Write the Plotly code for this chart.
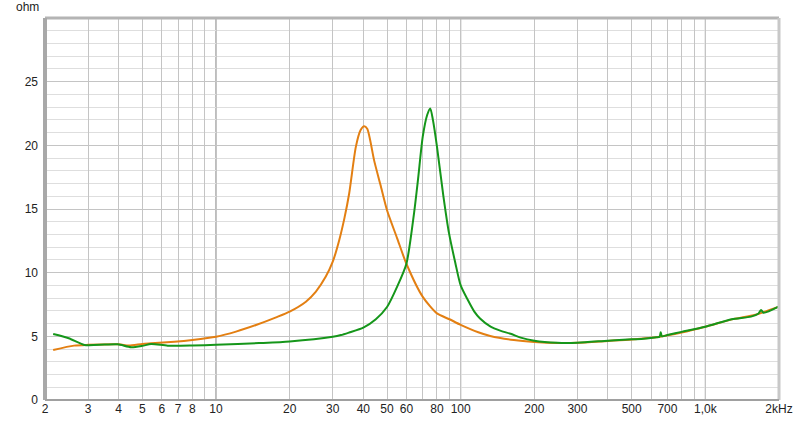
import plotly.graph_objects as go

# ---- data ----
orange_f = [2.16, 2.63, 3, 4, 4.4, 5, 5.43, 6.76, 8, 10, 12.07, 14.57, 17.6, 20, 23.3, 25.6, 28.1, 30,
            31.9, 33.5, 35, 37.3, 39, 40.3, 41.5, 44.3, 47, 50, 55, 60, 70, 80, 90, 100, 118, 132, 165,
            200, 250, 300, 400, 500, 650, 800, 1000, 1300, 1600, 2000]
orange_z = [3.93, 4.27, 4.33, 4.37, 4.28, 4.4, 4.45, 4.58, 4.72, 4.97, 5.37, 5.89, 6.49, 6.94, 7.72, 8.51,
            9.69, 10.86, 12.57, 14.3, 16.2, 19.9, 21.2, 21.5, 21.3, 18.8, 16.9, 14.9, 12.7, 10.7, 8.1, 6.8,
            6.34, 5.9, 5.32, 5.03, 4.71, 4.56, 4.48, 4.5, 4.64, 4.75, 4.97, 5.3, 5.75, 6.35, 6.7, 7.33]

green_f = [2.16, 2.5, 2.9, 3.5, 3.97, 4.5, 5.0, 5.43, 6.35, 8, 10, 15, 20, 30, 32.4, 35, 40, 45, 50, 55,
           60, 64.5, 67, 70, 73, 75.1, 77, 80, 85, 89.6, 95, 100, 107, 113.7, 120, 132.5, 145, 160, 176,
           200, 248, 300, 400, 500, 547, 630, 650, 657, 665, 700, 800, 1000, 1281, 1537, 1650, 1690,
           1730, 2000]
green_z = [5.18, 4.85, 4.32, 4.35, 4.37, 4.14, 4.25, 4.4, 4.27, 4.28, 4.33, 4.47, 4.6, 4.97, 5.1, 5.3,
           5.68, 6.34, 7.3, 8.9, 10.7, 14.7, 17.4, 20.7, 22.4, 22.9, 22.0, 19.9, 16.0, 13.1, 10.8, 9.0,
           7.85, 6.94, 6.4, 5.76, 5.45, 5.2, 4.9, 4.66, 4.5, 4.5, 4.66, 4.77, 4.79, 4.92, 4.97, 5.32, 5.0,
           5.1, 5.35, 5.76, 6.34, 6.55, 6.8, 7.07, 6.85, 7.35]

x_grid = [2, 3, 4, 5, 6, 7, 8, 9, 10, 20, 30, 40, 50, 60, 70, 80, 90, 100, 200, 300, 400, 500, 600,
          700, 800, 900, 1000, 2000]
x_text = ["2", "3", "4", "5", "6", "7", "8", "", "10", "20", "30", "40", "50", "60", "", "80", "",
          "100", "200", "300", "", "500", "", "700", "", "", "1,0k", "2kHz"]
decades = [10, 100, 1000]
y_ticks = [0, 5, 10, 15, 20, 25]

fig = go.Figure()
fig.add_trace(go.Scatter(x=orange_f, y=orange_z, mode="lines",
                         line=dict(color="#E37F12", width=2, shape="spline", smoothing=0.7),
                         showlegend=False))
fig.add_trace(go.Scatter(x=green_f, y=green_z, mode="lines",
                         line=dict(color="#15961A", width=2, shape="spline", smoothing=0.7),
                         showlegend=False))

shapes = []
# darker decade gridlines
for d in decades:
    shapes.append(dict(type="line", xref="x", yref="paper", x0=d, x1=d, y0=0, y1=1,
                       line=dict(color="#7a7a7a", width=1), layer="between"))
# frame
shapes.append(dict(type="line", xref="paper", yref="paper", x0=0, x1=1, y0=1, y1=1,
                   line=dict(color="#b4b4b4", width=3)))
shapes.append(dict(type="line", xref="paper", yref="paper", x0=0, x1=0, y0=0, y1=1,
                   line=dict(color="#a8a8a8", width=4)))
shapes.append(dict(type="line", xref="paper", yref="paper", x0=1, x1=1, y0=0, y1=1,
                   line=dict(color="#c8c8c8", width=3)))
shapes.append(dict(type="line", xref="paper", yref="paper", x0=0, x1=1, y0=0, y1=0,
                   line=dict(color="#a0a0a0", width=2)))

fig.update_layout(
    width=800, height=424,
    margin=dict(l=45, r=21, t=18, b=24),
    paper_bgcolor="white", plot_bgcolor="white",
    font=dict(family="Liberation Sans, Arial", size=12, color="#222"),
    shapes=shapes,
    xaxis=dict(type="log", range=[0.30103, 3.30103], tickvals=x_grid, ticktext=x_text,
               showgrid=True, gridcolor="#c4c4c4", gridwidth=1, zeroline=False, automargin=False,
               ticks="", tickfont=dict(size=12), showline=False),
    yaxis=dict(range=[0, 30], tickvals=y_ticks, showgrid=True, gridcolor="#c4c4c4",
               minor=dict(dtick=1, showgrid=True, gridcolor="#dedede"), automargin=False,
               zeroline=False, ticks="", ticklabelstandoff=6, showline=False),
    annotations=[dict(text="ohm", xref="paper", yref="paper", x=0, y=1, xanchor="right",
                      yanchor="bottom", xshift=-4, yshift=2, showarrow=False,
                      font=dict(size=12, color="#222"))],
)

fig.write_html("out.html", config={"displayModeBar": False},
               post_script="document.body.style.margin='0';document.body.style.overflow='hidden';")
